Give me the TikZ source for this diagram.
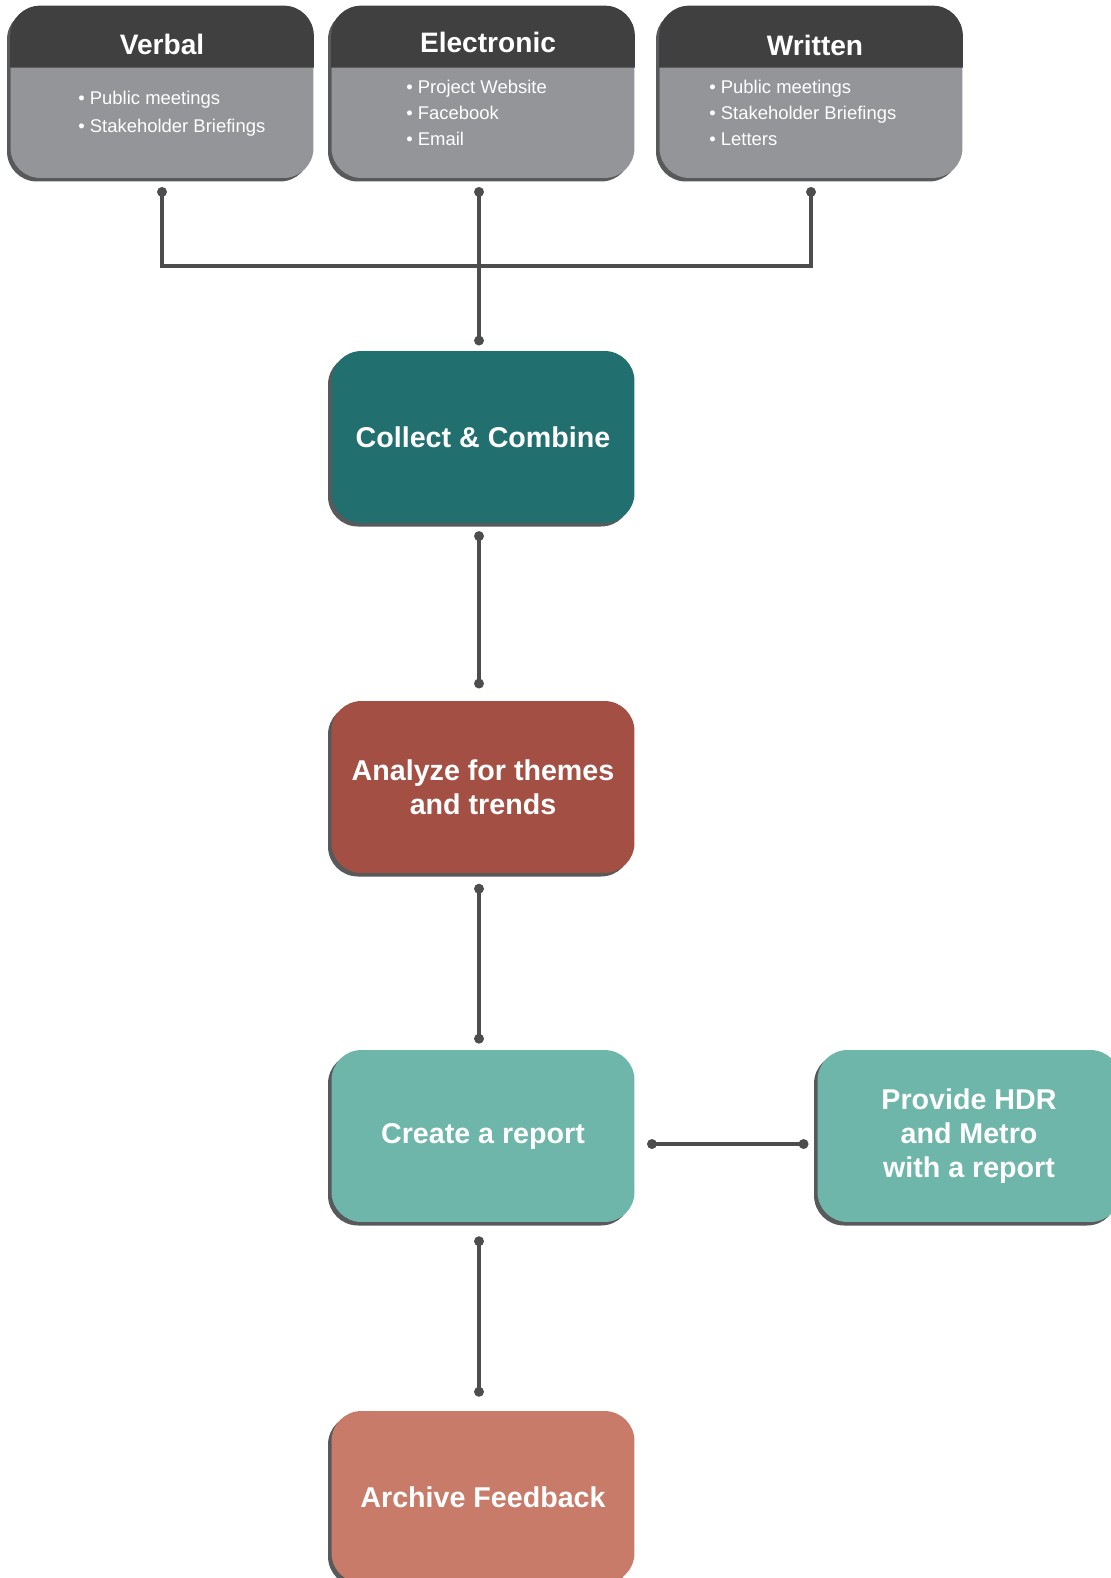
\documentclass[tikz,border=0pt]{standalone}
\usepackage{fontspec}
\setmainfont{Liberation Sans}
\usetikzlibrary{shadows,arrows.meta}

\definecolor{headgray}{HTML}{404041}
\definecolor{bodygray}{HTML}{939598}
\definecolor{shadegray}{HTML}{58595B}
\definecolor{linegray}{HTML}{4D4D4F}
\definecolor{tealdark}{HTML}{226F70}
\definecolor{brickred}{HTML}{A44F44}
\definecolor{teallight}{HTML}{6DB6A9}
\definecolor{salmon}{HTML}{C97B69}

\tikzset{
	card/.style={rounded corners=0.6cm, minimum width=6.06cm, minimum height=3.44cm,
		inner sep=0pt, text=white, align=center,
		font=\bfseries\fontsize{16.3}{19.5}\selectfont,
		general shadow={shadow xshift=-2pt, shadow yshift=-2pt, fill=shadegray}},
	head/.style={text=white, inner sep=0pt, font=\bfseries\fontsize{16}{19}\selectfont},
	items/.style={text=white, inner sep=0pt, align=left, anchor=west,
		font=\fontsize{10.5}{14.9}\selectfont},
	link/.style={draw=linegray, line width=2.2pt,
		{Circle[length=5.5pt]}-{Circle[length=5.5pt]}}
}

\begin{document}
\begin{tikzpicture}[x=0.02cm, y=-0.02cm]
	\useasboundingbox (0,0) rectangle (1111,1578);
	% sources
	\node[card, fill=bodygray] (verbal) at (162,92) {};
	\node[card, fill=bodygray] (electronic) at (483,92) {};
	\node[card, fill=bodygray] (written) at (811,92) {};
	\foreach \n in {verbal,electronic,written}
		\fill[headgray] ([yshift=-1.24cm]\n.north west) [rounded corners=0.6cm]
			-- (\n.north west) -- (\n.north east) [sharp corners]
			-- ([yshift=-1.24cm]\n.north east) -- cycle;
	\node[head] (verbalhead) at (162,44) {Verbal};
	\node[head] (electronichead) at (488,42) {Electronic};
	\node[head] (writtenhead) at (815,45) {Written};
	\node[items, font=\fontsize{10.5}{16}\selectfont] (verbalitems) at (78,114)
		{\textbullet\ Public meetings\\\textbullet\ Stakeholder Briefings};
	\node[items] (electronicitems) at (406,113)
		{\textbullet\ Project Website\\\textbullet\ Facebook\\\textbullet\ Email};
	\node[items] (writtenitems) at (709,113)
		{\textbullet\ Public meetings\\\textbullet\ Stakeholder Briefings\\\textbullet\ Letters};
	% process
	\node[card, fill=tealdark] (collect) at (483,437) {Collect \& Combine};
	\node[card, fill=brickred] (analyze) at (483,787) {Analyze for themes\\and trends};
	\node[card, fill=teallight] (report) at (483,1136) {Create a report};
	\node[card, fill=teallight] (provide) at (969,1136) {Provide HDR\\and Metro\\with a report};
	\node[card, fill=salmon] (archive) at (483,1497) {Archive Feedback};
	% links
	\coordinate (bus) at (479,266);
	\draw[link, shorten <=5pt, shorten >=5pt] (verbal.south) |- (bus) -| (written.south);
	\draw[link, shorten <=5pt, shorten >=3pt] ([xshift=-0.08cm]electronic.south) -- ([xshift=-0.08cm]collect.north);
	\draw[link, shorten <=4.5pt, shorten >=7pt] ([xshift=-0.08cm]collect.south) -- ([xshift=-0.08cm]analyze.north);
	\draw[link, shorten <=6pt, shorten >=3.5pt] ([xshift=-0.08cm]analyze.south) -- ([xshift=-0.08cm]report.north);
	\draw[link, shorten <=7pt, shorten >=5pt] ([yshift=-0.16cm]report.east) -- ([yshift=-0.16cm]provide.west);
	\draw[link, shorten <=8pt, shorten >=8pt] ([xshift=-0.08cm]report.south) -- ([xshift=-0.08cm]archive.north);
\end{tikzpicture}
\end{document}
